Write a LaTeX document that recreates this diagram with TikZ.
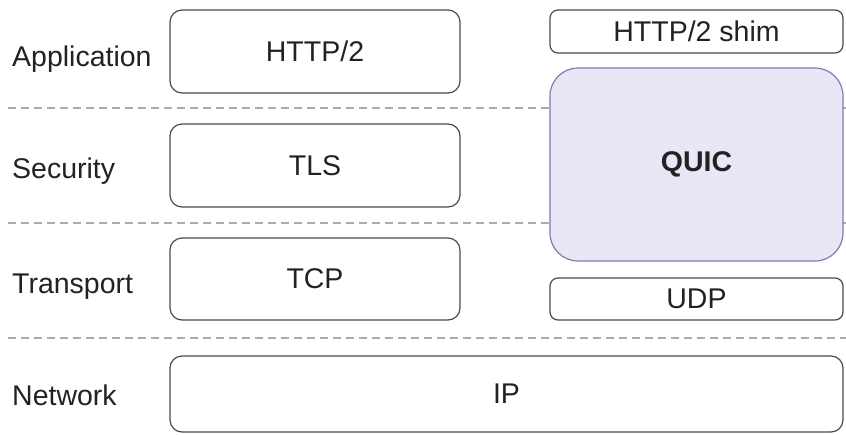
\documentclass[tikz,border=0pt]{standalone}
\usepackage{fontspec}
\setmainfont{Liberation Sans}
\definecolor{boxline}{HTML}{4A4A4A}
\definecolor{txt}{HTML}{222222}
\definecolor{dashc}{HTML}{ABABAB}
\definecolor{quicfill}{HTML}{E9E7F6}
\definecolor{quicline}{HTML}{7E7CAE}
\begin{document}
\begin{tikzpicture}[x=1pt,y=-1pt,
  lbl/.style={anchor=base west, inner sep=0pt, text=txt, font=\fontsize{28.5}{32}\selectfont},
  layerbox/.style={draw=boxline, line width=1.2pt, rounded corners=12pt, fill=white,
    text=txt, font=\fontsize{28.5}{32}\selectfont, inner sep=0pt, outer sep=0pt, anchor=north west},
  sep/.style={draw=dashc, line width=1.3pt, dash pattern=on 8pt off 5pt}]
\useasboundingbox (0,0) rectangle (846,434);
% separators
\coordinate (s1a) at (8,108);  \coordinate (s1b) at (846,108);
\coordinate (s2a) at (8,223);  \coordinate (s2b) at (846,223);
\coordinate (s3a) at (8,338);  \coordinate (s3b) at (846,338);
\draw[sep] (s1a) -- (s1b);
\draw[sep] (s2a) -- (s2b);
\draw[sep] (s3a) -- (s3b);
% labels
\node[lbl] (lapp) at (12,66) {Application};
\node[lbl] (lsec) at (12,178) {Security};
\node[lbl] (ltra) at (12,293) {Transport};
\node[lbl] (lnet) at (12,405) {Network};
% left stack
\node[layerbox, minimum width=290pt, minimum height=83pt] (http) at (170,10) {HTTP/2};
\node[layerbox, minimum width=290pt, minimum height=83pt] (tls) at (170,124) {TLS};
\node[layerbox, minimum width=290pt, minimum height=82pt] (tcp) at (170,238) {TCP};
\node[layerbox, minimum width=673pt, minimum height=76pt] (ip) at (170,356) {IP};
% right stack
\node[layerbox, rounded corners=8pt, minimum width=293pt, minimum height=43pt] (shim) at (550,10) {HTTP/2 shim};
\node[layerbox, draw=quicline, fill=quicfill, rounded corners=28pt, minimum width=293pt, minimum height=193pt, font=\fontsize{28.5}{32}\selectfont\bfseries] (quic) at (550,68) {QUIC};
\node[layerbox, rounded corners=8pt, minimum width=293pt, minimum height=42pt] (udp) at (550,278) {UDP};
\end{tikzpicture}
\end{document}
